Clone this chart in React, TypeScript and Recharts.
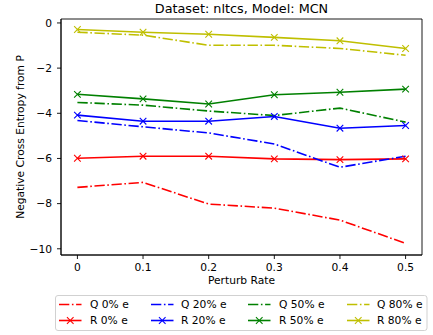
import React from 'react';
import { LineChart, Line, XAxis, YAxis, ReferenceArea } from 'recharts';

const perturbRates = [0, 0.1, 0.2, 0.3, 0.4, 0.5];
const xTicks = [0, 0.1, 0.2, 0.3, 0.4, 0.5];
const yTicks = [0, -2, -4, -6, -8, -10];

const q0 = [-7.28, -7.06, -8.02, -8.2, -8.73, -9.76];
const r0 = [-5.99, -5.9, -5.9, -6.02, -6.05, -6.02];
const q20 = [-4.32, -4.6, -4.87, -5.36, -6.39, -5.9];
const r20 = [-4.08, -4.35, -4.35, -4.14, -4.66, -4.54];
const q50 = [-3.52, -3.64, -3.9, -4.1, -3.77, -4.39];
const r50 = [-3.16, -3.36, -3.59, -3.18, -3.07, -2.93];
const q80 = [-0.41, -0.54, -0.99, -0.99, -1.13, -1.43];
const r80 = [-0.29, -0.41, -0.5, -0.64, -0.79, -1.13];

const series = [
  { key: 'q0', name: 'Q 0% e', values: q0, color: '#ff0000', marker: false },
  { key: 'r0', name: 'R 0% e', values: r0, color: '#ff0000', marker: true },
  { key: 'q20', name: 'Q 20% e', values: q20, color: '#0000ff', marker: false },
  { key: 'r20', name: 'R 20% e', values: r20, color: '#0000ff', marker: true },
  { key: 'q50', name: 'Q 50% e', values: q50, color: '#008000', marker: false },
  { key: 'r50', name: 'R 50% e', values: r50, color: '#008000', marker: true },
  { key: 'q80', name: 'Q 80% e', values: q80, color: '#bfbf00', marker: false },
  { key: 'r80', name: 'R 80% e', values: r80, color: '#bfbf00', marker: true },
];

const data = perturbRates.map((x, i) => {
  const row: Record<string, number> = { x };
  series.forEach((s) => {
    row[s.key] = s.values[i];
  });
  return row;
});

const FONT = '"DejaVu Sans", sans-serif';
const DASHDOT = '10.3 2.6 1.6 2.6';
const LW = 1.6;

const makeDot = (color: string) => (props: any) => {
  const { cx, cy, index } = props;
  if (cx == null || cy == null) return <g key={index} />;
  const d = 3.3;
  return (
    <path
      key={index}
      d={`M${cx - d},${cy - d}L${cx + d},${cy + d}M${cx - d},${cy + d}L${cx + d},${cy - d}`}
      stroke={color}
      strokeWidth={1.1}
      fill="none"
    />
  );
};

const fmtY = (v: number) => String(v).replace('-', '\u2212');
const fmtX = (v: number) => (v === 0 ? '0' : String(v));

const legendCols = [
  { lineX: 59, textX: 90 },
  { lineX: 151, textX: 181 },
  { lineX: 248, textX: 279 },
  { lineX: 347, textX: 377 },
];
const legendRows = [304.5, 320.5];

export default function App() {
  return (
    <div style={{ position: 'absolute', left: 0, top: 0, width: 433, height: 335, background: '#fff', fontFamily: FONT }}>
      <div
        style={{
          position: 'absolute',
          left: 61,
          width: 361,
          top: 1,
          textAlign: 'center',
          fontSize: 12.8,
          lineHeight: '16px',
          color: '#000',
        }}
      >
        Dataset: nltcs, Model: MCN
      </div>
      <div
        style={{
          position: 'absolute',
          left: 20,
          top: 137,
          transform: 'translate(-50%, -50%) rotate(-90deg)',
          whiteSpace: 'nowrap',
          fontSize: 10.7,
          lineHeight: '13px',
          color: '#000',
        }}
      >
        Negative Cross Entropy from P
      </div>
      <LineChart
        width={433}
        height={335}
        data={data}
        margin={{ top: 19, right: 11, left: 0, bottom: 0 }}
        style={{ position: 'absolute', left: 0, top: 0 }}
      >
        <XAxis
          dataKey="x"
          type="number"
          domain={[-0.025, 0.525]}
          ticks={xTicks}
          tickFormatter={fmtX}
          allowDataOverflow
          height={80}
          tickSize={4}
          tickMargin={4}
          axisLine={{ stroke: '#000', strokeWidth: 0.9 }}
          tickLine={{ stroke: '#000', strokeWidth: 0.9 }}
          tick={{ fill: '#000', fontSize: 10.7, fontFamily: FONT }}
          label={{ value: 'Perturb Rate', position: 'insideTop', offset: 21, fill: '#000', fontSize: 10.7, fontFamily: FONT }}
        />
        <YAxis
          type="number"
          domain={[-10.275, 0.175]}
          ticks={yTicks}
          tickFormatter={fmtY}
          allowDataOverflow
          width={61}
          tickSize={4}
          tickMargin={5}
          axisLine={{ stroke: '#000', strokeWidth: 0.9 }}
          tickLine={{ stroke: '#000', strokeWidth: 0.9 }}
          tick={{ fill: '#000', fontSize: 10.7, fontFamily: FONT }}
        />
        <ReferenceArea
          x1={-0.025}
          x2={0.525}
          y1={-10.275}
          y2={0.175}
          fill="none"
          fillOpacity={0}
          stroke="#000"
          strokeWidth={0.9}
          strokeOpacity={1}
        />
        {series.map((s) => (
          <Line
            key={s.key}
            dataKey={s.key}
            name={s.name}
            stroke={s.color}
            strokeWidth={LW}
            strokeDasharray={s.marker ? undefined : DASHDOT}
            dot={s.marker ? makeDot(s.color) : false}
            activeDot={false}
            isAnimationActive={false}
            type="linear"
          />
        ))}
      </LineChart>
      <svg
        width={433}
        height={335}
        style={{ position: 'absolute', left: 0, top: 0, pointerEvents: 'none' }}
      >
        <rect x={55.5} y={295.5} width={371.5} height={35} rx={2.5} ry={2.5} fill="#fff" fillOpacity={0.8} stroke="#cccccc" strokeWidth={0.9} />
        {series.map((s, i) => {
          const col = legendCols[Math.floor(i / 2)];
          const y = legendRows[i % 2];
          const x1 = col.lineX;
          const x2 = col.lineX + 22.5;
          const cx = (x1 + x2) / 2;
          const d = 3.3;
          return (
            <g key={s.key}>
              <line x1={x1} x2={x2} y1={y} y2={y} stroke={s.color} strokeWidth={LW} strokeDasharray={s.marker ? undefined : DASHDOT} />
              {s.marker && (
                <path d={`M${cx - d},${y - d}L${cx + d},${y + d}M${cx - d},${y + d}L${cx + d},${y - d}`} stroke={s.color} strokeWidth={1.1} fill="none" />
              )}
              <text x={col.textX} y={y} dominantBaseline="central" fontSize={10.7} fontFamily={FONT} fill="#000">
                {s.name}
              </text>
            </g>
          );
        })}
      </svg>
    </div>
  );
}
